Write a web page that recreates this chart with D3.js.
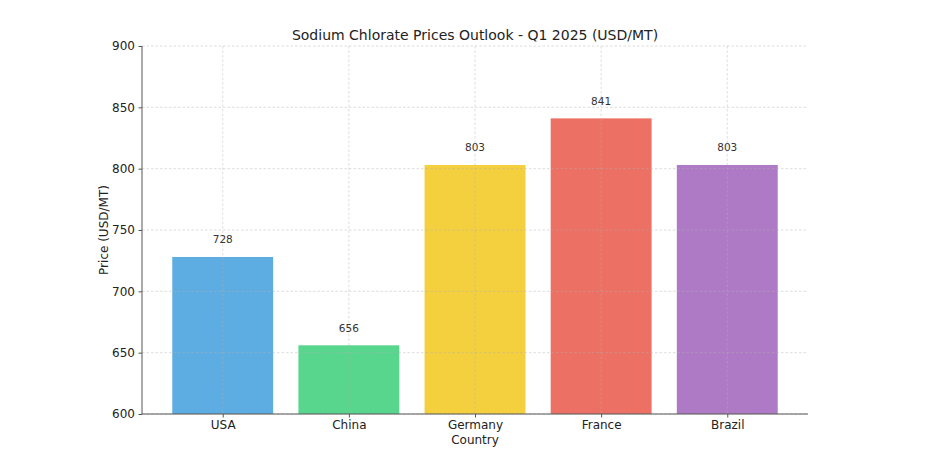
<!DOCTYPE html>
<html><head><meta charset="utf-8">
<script src="https://cdn.jsdelivr.net/npm/d3@7"></script>
<style>body{margin:0;background:#fff}svg{font-family:"DejaVu Sans",sans-serif}</style>
</head><body>
<script>
const countries = ["USA","China","Germany","France","Brazil"];
const prices = [728,656,803,841,803];
const colors = ["#5DADE2","#58D68D","#F4D03F","#EC7063","#AF7AC5"];
const yTicks = [600,650,700,750,800,850,900];

const W=929,H=454;
const m={l:142,r:121,t:46,b:40};
const svg=d3.select("body").append("svg").attr("width",W).attr("height",H);
const x=d3.scaleLinear().domain([-0.64,4.64]).range([m.l,W-m.r]);
const y=d3.scaleLinear().domain([600,900]).range([H-m.b,m.t]);

// bars
svg.selectAll(".bar").data(prices).join("rect")
 .attr("x",(d,i)=>x(i-0.4)).attr("width",x(0.8)-x(0))
 .attr("y",d=>y(d)).attr("height",d=>y(600)-y(d))
 .attr("fill",(d,i)=>colors[i]);

// grid (drawn faintly over bars)
const g=svg.append("g");
g.selectAll(".hg").data(yTicks).join("line")
 .attr("x1",m.l).attr("x2",W-m.r).attr("y1",d=>y(d)).attr("y2",d=>y(d))
 .attr("stroke","#b0b0b0").attr("stroke-opacity",0.55).attr("stroke-width",0.8).attr("stroke-dasharray","2.5,2");
g.selectAll(".vg").data(countries).join("line")
 .attr("x1",(d,i)=>x(i)).attr("x2",(d,i)=>x(i)).attr("y1",m.t).attr("y2",H-m.b)
 .attr("stroke","#b0b0b0").attr("stroke-opacity",0.55).attr("stroke-width",0.8).attr("stroke-dasharray","2.5,2");

// value labels
svg.selectAll(".val").data(prices).join("text")
 .attr("x",(d,i)=>x(i)).attr("y",d=>y(d+11)).attr("text-anchor","middle")
 .attr("font-size",10.5).attr("fill","#333").text(d=>d);

// axes
const xa=svg.append("g").attr("transform",`translate(0,${H-m.b})`)
 .call(d3.axisBottom(x).tickValues(d3.range(countries.length)).tickFormat(i=>countries[i]).tickSize(3.5).tickPadding(3));
xa.select(".domain").attr("stroke","#555").attr("d",`M${m.l},0H${W-m.r}`);
const ya=svg.append("g").attr("transform",`translate(${m.l},0)`)
 .call(d3.axisLeft(y).tickValues(yTicks).tickSize(3.5).tickPadding(3.5));
ya.select(".domain").attr("stroke","#555").attr("d",`M0,${m.t}V${H-m.b}`);
svg.selectAll(".tick line").attr("stroke","#555");
svg.selectAll(".tick text").attr("font-size",12).attr("fill","#222").attr("font-family","DejaVu Sans");

svg.append("text").attr("x",(m.l+W-m.r)/2).attr("y",40).attr("text-anchor","middle")
 .attr("font-size",14).attr("fill","#222").text("Sodium Chlorate Prices Outlook - Q1 2025 (USD/MT)");
svg.append("text").attr("x",(m.l+W-m.r)/2).attr("y",444).attr("text-anchor","middle")
 .attr("font-size",12).attr("fill","#222").text("Country");
svg.append("text").attr("transform",`translate(108,${(m.t+H-m.b)/2}) rotate(-90)`).attr("text-anchor","middle")
 .attr("font-size",12).attr("fill","#222").text("Price (USD/MT)");
</script>
</body></html>
